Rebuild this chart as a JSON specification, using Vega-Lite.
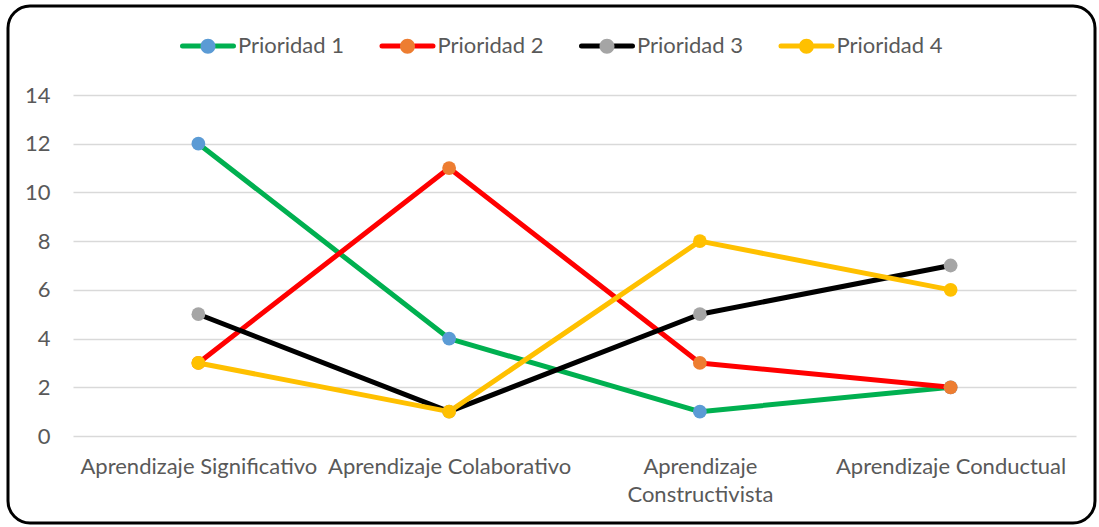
{
  "$schema": "https://vega.github.io/schema/vega-lite/v6.json",
  "width": 1087,
  "height": 517,
  "autosize": "none",
  "padding": {"left": 8, "top": 6, "right": 4, "bottom": 4},
  "background": "white",
  "config": {
    "view": {"stroke": "#000000", "strokeWidth": 3, "cornerRadius": 22, "fill": "white"},
    "font": "Lato",
    "axis": {"labelFont": "Lato", "labelColor": "#595959", "labelFontSize": 22, "title": null},
    "legend": {"labelFont": "Lato", "labelColor": "#595959", "labelFontSize": 22, "padding": 0}
  },
  "data": {
    "values": [
      {"categoria": "Aprendizaje Significativo", "serie": "Prioridad 1", "valor": 12},
      {"categoria": "Aprendizaje Colaborativo", "serie": "Prioridad 1", "valor": 4},
      {"categoria": "Aprendizaje Constructivista", "serie": "Prioridad 1", "valor": 1},
      {"categoria": "Aprendizaje Conductual", "serie": "Prioridad 1", "valor": 2},
      {"categoria": "Aprendizaje Significativo", "serie": "Prioridad 2", "valor": 3},
      {"categoria": "Aprendizaje Colaborativo", "serie": "Prioridad 2", "valor": 11},
      {"categoria": "Aprendizaje Constructivista", "serie": "Prioridad 2", "valor": 3},
      {"categoria": "Aprendizaje Conductual", "serie": "Prioridad 2", "valor": 2},
      {"categoria": "Aprendizaje Significativo", "serie": "Prioridad 3", "valor": 5},
      {"categoria": "Aprendizaje Colaborativo", "serie": "Prioridad 3", "valor": 1},
      {"categoria": "Aprendizaje Constructivista", "serie": "Prioridad 3", "valor": 5},
      {"categoria": "Aprendizaje Conductual", "serie": "Prioridad 3", "valor": 7},
      {"categoria": "Aprendizaje Significativo", "serie": "Prioridad 4", "valor": 3},
      {"categoria": "Aprendizaje Colaborativo", "serie": "Prioridad 4", "valor": 1},
      {"categoria": "Aprendizaje Constructivista", "serie": "Prioridad 4", "valor": 8},
      {"categoria": "Aprendizaje Conductual", "serie": "Prioridad 4", "valor": 6}
    ]
  },
  "encoding": {
    "x": {
      "field": "categoria", "type": "nominal", "sort": null,
      "scale": {"type": "point", "range": [65, 1068], "padding": 0.5},
      "axis": {
        "orient": "bottom", "offset": -87, "domain": false, "ticks": false, "grid": false,
        "labelPadding": 20, "labelLimit": 0, "labelOverlap": false, "labelAngle": 0,
        "labelBaseline": "top", "labelLineHeight": 28,
        "labelExpr": "datum.label == 'Aprendizaje Constructivista' ? ['Aprendizaje', 'Constructivista'] : datum.label"
      }
    },
    "y": {
      "field": "valor", "type": "quantitative",
      "scale": {"domain": [0, 14], "range": [430, 89], "nice": false},
      "axis": {
        "orient": "left", "offset": -42, "domain": false, "ticks": false, "grid": true,
        "gridColor": "#D9D9D9", "gridWidth": 1.5, "labelPadding": 0,
        "values": [0, 2, 4, 6, 8, 10, 12, 14]
      }
    }
  },
  "layer": [
    {
      "mark": {"type": "line", "strokeWidth": 5, "strokeJoin": "round"},
      "encoding": {
        "stroke": {
          "field": "serie", "type": "nominal",
          "scale": {"range": ["#00B050", "#FF0000", "#000000", "#FFC000"]},
          "legend": {
            "title": null, "orient": "none", "legendX": 172, "legendY": 12,
            "direction": "horizontal", "columns": 4, "columnPadding": 26.5,
            "symbolType": "M-1,0L-0.3,0M0.3,0L1,0", "symbolSize": 2601, "symbolStrokeWidth": 5,
            "labelOffset": 2, "labelLimit": 0, "zindex": 0,
            "encode": {"symbols": {"update": {"strokeCap": {"value": "round"}}}}
          }
        }
      }
    },
    {
      "mark": {"type": "circle", "size": 190, "opacity": 1},
      "encoding": {
        "fill": {
          "field": "serie", "type": "nominal",
          "scale": {"domain": ["Prioridad 1", "Prioridad 2", "Prioridad 3", "Prioridad 4"], "range": ["#5B9BD5", "#ED7D31", "#A5A5A5", "#FFC000"]},
          "legend": {
            "title": null, "orient": "none", "legendX": 172, "legendY": 12,
            "direction": "horizontal", "columns": 4, "columnPadding": 26.5,
            "symbolType": "M-1,0L1,0M0.294,0A0.294,0.294,0,1,1,-0.294,0A0.294,0.294,0,1,1,0.294,0Z", "symbolSize": 2601, "symbolStrokeWidth": 5,
            "symbolStrokeColor": "transparent",
            "symbolOpacity": 1, "labelOffset": 2, "labelLimit": 0, "labelOpacity": 0, "zindex": 1,
            "encode": {"symbols": {"update": {"stroke": {"value": "transparent"}, "strokeCap": {"value": "round"}}}}
          }
        }
      }
    }
  ]
}
